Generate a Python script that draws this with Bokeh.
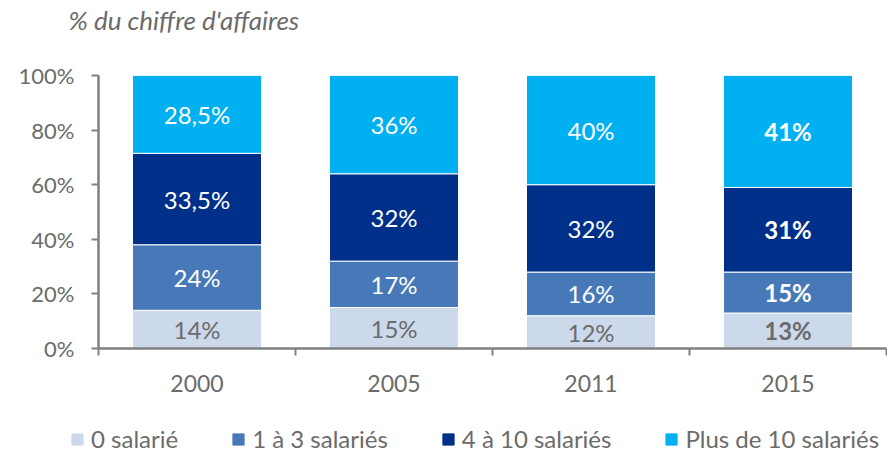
from bokeh.plotting import figure
from bokeh.layouts import column
from bokeh.models import (ColumnDataSource, FixedTicker, NumeralTickFormatter, Range1d,
                          Legend, LegendItem, Label)
from bokeh.embed import file_html
from bokeh.resources import INLINE
from bokeh.core.properties import value

years = ["2000", "2005", "2011", "2015"]
series = ["0 salarié", "1 à 3 salariés", "4 à 10 salariés", "Plus de 10 salariés"]
v0 = [14, 15, 12, 13]
v1 = [24, 17, 16, 15]
v2 = [33.5, 32, 32, 31]
v3 = [28.5, 36, 40, 41]
colors = ["#CCD9EB", "#4779B8", "#00308A", "#00B0F0"]
label_colors = ["#6B6B6B", "#FFFFFF", "#FFFFFF", "#FFFFFF"]
bold_years = ["2015"]
title_text = "% du chiffre d'affaires"

FONT = "Lato"
GRAY = "#6B6B6B"


def strip(h):
    f = figure(width=887, height=h, output_backend="svg", toolbar_location=None,
               x_range=Range1d(0, 1), y_range=Range1d(0, 1),
               x_axis_location=None, y_axis_location=None, frame_align=False,
               min_border_left=0, min_border_right=0, min_border_top=0, min_border_bottom=0)
    f.grid.visible = False
    f.outline_line_color = None
    return f


# title strip
tf = strip(45)
tf.add_layout(Label(x=68, y=26, x_units="screen", y_units="screen", text=title_text,
                    text_font=FONT, text_font_style="italic", text_font_size="26px",
                    text_color=GRAY, text_baseline="middle"))

vals = [v0, v1, v2, v3]
xs = [i + 0.5 for i in range(len(years))]
data = {"x": xs}
for k, s in enumerate(series):
    data[s] = [v / 100 for v in vals[k]]
src = ColumnDataSource(data)

p = figure(width=887, height=368, output_backend="svg", toolbar_location=None,
           x_range=Range1d(0, len(years)), y_range=Range1d(0, 1), frame_align=False,
           min_border_left=98, min_border_right=1, min_border_top=30, min_border_bottom=65)
p.outline_line_color = None
p.xgrid.visible = False
p.ygrid.visible = False

renderers = p.vbar_stack(series, x="x", width=0.655, color=colors, source=src,
                         line_color="white", line_width=1)

# labels
lx, ly, lt, lc, lw = [], [], [], [], []
for i, y in enumerate(years):
    base = 0
    for k in range(len(series)):
        v = vals[k][i]
        lx.append(xs[i])
        ly.append((base + v / 2) / 100)
        txt = (("%g" % v).replace(".", ",")) + "%"
        lt.append(txt)
        lc.append(label_colors[k])
        lw.append("bold" if y in bold_years else "normal")
        base += v
lsrc = ColumnDataSource(dict(x=lx, y=ly, t=lt, c=lc, w=lw))
p.text(x="x", y="y", text="t", source=lsrc, text_color="c", text_font_style="w",
       text_font=value(FONT), text_font_size="24px", text_align="center", text_baseline="middle")

# axes
xa = p.xaxis[0]
xa.ticker = FixedTicker(ticks=xs, minor_ticks=list(range(len(years) + 1)))
xa.major_label_overrides = {x: y for x, y in zip(xs, years)}
xa.major_tick_line_color = None
xa.minor_tick_out = 7
xa.minor_tick_in = 0
xa.minor_tick_line_color = "#808080"
xa.minor_tick_line_width = 2
xa.axis_line_color = "#808080"
xa.axis_line_width = 2.5
xa.major_label_text_font = FONT
xa.major_label_text_font_size = "23px"
xa.major_label_text_color = GRAY
xa.major_label_standoff = 19

ya = p.yaxis[0]
ya.ticker = FixedTicker(ticks=[0, 0.2, 0.4, 0.6, 0.8, 1.0])
ya.formatter = NumeralTickFormatter(format="0%")
ya.minor_tick_line_color = None
ya.major_tick_out = 7
ya.major_tick_in = 0
ya.major_tick_line_color = "#808080"
ya.major_tick_line_width = 2
ya.axis_line_color = "#808080"
ya.axis_line_width = 2.5
ya.major_label_text_font = FONT
ya.major_label_text_font_size = "22px"
ya.major_label_text_color = GRAY
ya.major_label_standoff = 17

# legend strip
lf = strip(40)
dummy = ColumnDataSource({"x": [5], "top": [0]})
lrs = [lf.vbar(x="x", top="top", width=0.1, color=c, source=dummy) for c in colors]
legend = Legend(items=[LegendItem(label=s, renderers=[r]) for s, r in zip(series, lrs)],
                orientation="horizontal", location=(70, 0), spacing=53,
                glyph_width=14, glyph_height=14, label_standoff=7, padding=0, margin=0,
                label_text_font=FONT, label_text_font_size="24px", label_text_color=GRAY,
                border_line_color=None, background_fill_alpha=0)
lf.add_layout(legend, "center")

layout = column(tf, p, lf, spacing=0)
open("out.html", "w").write(file_html(layout, INLINE))
